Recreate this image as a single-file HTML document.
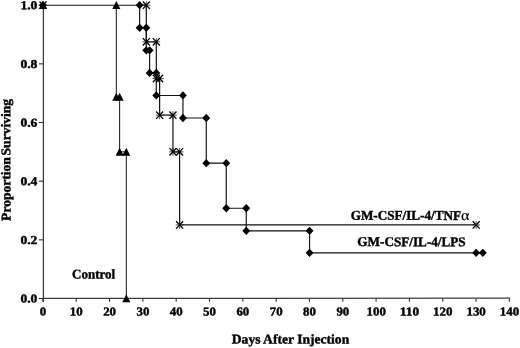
<!DOCTYPE html>
<html><head><meta charset="utf-8"><title>Survival</title>
<style>
html,body{margin:0;padding:0;background:#fff;}
svg{display:block;}
text{font-family:"Liberation Serif","DejaVu Serif",serif;font-weight:bold;fill:#000;stroke:#000;stroke-width:0.4px;}
</style></head><body>
<svg width="520" height="348" viewBox="0 0 520 348">
<rect width="520" height="348" fill="#fff"/>

<g stroke="#3c3c3c" stroke-width="1.25" fill="none">
<path d="M43.4,4.7V301.8"/>
<path d="M42.8,298.45L510.1,298.1"/>
</g>
<g stroke="#333" stroke-width="1.1" fill="none">
<path d="M42.90,298.5V301.8"/>
<path d="M76.22,298.5V301.8"/>
<path d="M109.54,298.5V301.8"/>
<path d="M142.86,298.5V301.8"/>
<path d="M176.18,298.5V301.8"/>
<path d="M209.50,298.5V301.8"/>
<path d="M242.82,298.5V301.8"/>
<path d="M276.14,298.5V301.8"/>
<path d="M309.46,298.5V301.8"/>
<path d="M342.78,298.5V301.8"/>
<path d="M376.10,298.5V301.8"/>
<path d="M409.42,298.5V301.8"/>
<path d="M442.74,298.5V301.8"/>
<path d="M476.06,298.5V301.8"/>
<path d="M509.38,298.5V301.8"/>
<path d="M38.8,298.50H43.4"/>
<path d="M38.8,239.84H43.4"/>
<path d="M38.8,181.18H43.4"/>
<path d="M38.8,122.52H43.4"/>
<path d="M38.8,63.86H43.4"/>
<path d="M38.8,5.20H43.4"/>
</g>
<text transform="translate(39.75,315.40) rotate(0.05)" font-size="12.1" textLength="6.5" lengthAdjust="spacingAndGlyphs">0</text>
<text transform="translate(69.82,315.40) rotate(0.05)" font-size="12.1" textLength="12.9" lengthAdjust="spacingAndGlyphs">10</text>
<text transform="translate(103.14,315.40) rotate(0.05)" font-size="12.1" textLength="12.9" lengthAdjust="spacingAndGlyphs">20</text>
<text transform="translate(136.46,315.40) rotate(0.05)" font-size="12.1" textLength="12.9" lengthAdjust="spacingAndGlyphs">30</text>
<text transform="translate(169.78,315.40) rotate(0.05)" font-size="12.1" textLength="12.9" lengthAdjust="spacingAndGlyphs">40</text>
<text transform="translate(203.10,315.40) rotate(0.05)" font-size="12.1" textLength="12.9" lengthAdjust="spacingAndGlyphs">50</text>
<text transform="translate(236.42,315.40) rotate(0.05)" font-size="12.1" textLength="12.9" lengthAdjust="spacingAndGlyphs">60</text>
<text transform="translate(269.74,315.40) rotate(0.05)" font-size="12.1" textLength="12.9" lengthAdjust="spacingAndGlyphs">70</text>
<text transform="translate(303.06,315.40) rotate(0.05)" font-size="12.1" textLength="12.9" lengthAdjust="spacingAndGlyphs">80</text>
<text transform="translate(336.38,315.40) rotate(0.05)" font-size="12.1" textLength="12.9" lengthAdjust="spacingAndGlyphs">90</text>
<text transform="translate(366.45,315.40) rotate(0.05)" font-size="12.1" textLength="19.4" lengthAdjust="spacingAndGlyphs">100</text>
<text transform="translate(399.77,315.40) rotate(0.05)" font-size="12.1" textLength="19.4" lengthAdjust="spacingAndGlyphs">110</text>
<text transform="translate(433.09,315.40) rotate(0.05)" font-size="12.1" textLength="19.4" lengthAdjust="spacingAndGlyphs">120</text>
<text transform="translate(466.41,315.40) rotate(0.05)" font-size="12.1" textLength="19.4" lengthAdjust="spacingAndGlyphs">130</text>
<text transform="translate(499.73,315.40) rotate(0.05)" font-size="12.1" textLength="19.4" lengthAdjust="spacingAndGlyphs">140</text>
<text transform="translate(20.40,302.60) rotate(0.05)" font-size="12.1" textLength="17.0" lengthAdjust="spacingAndGlyphs">0.0</text>
<text transform="translate(20.40,243.94) rotate(0.05)" font-size="12.1" textLength="17.0" lengthAdjust="spacingAndGlyphs">0.2</text>
<text transform="translate(20.40,185.28) rotate(0.05)" font-size="12.1" textLength="17.0" lengthAdjust="spacingAndGlyphs">0.4</text>
<text transform="translate(20.40,126.62) rotate(0.05)" font-size="12.1" textLength="17.0" lengthAdjust="spacingAndGlyphs">0.6</text>
<text transform="translate(20.40,67.96) rotate(0.05)" font-size="12.1" textLength="17.0" lengthAdjust="spacingAndGlyphs">0.8</text>
<text transform="translate(20.40,9.30) rotate(0.05)" font-size="12.1" textLength="17.0" lengthAdjust="spacingAndGlyphs">1.0</text>
<text transform="translate(231.80,343.50) rotate(0.05)" font-size="13.3" textLength="117.4" lengthAdjust="spacingAndGlyphs">Days After Injection</text>
<text transform="translate(10.40,220.90) rotate(-90.05)" font-size="13.3" textLength="122" lengthAdjust="spacingAndGlyphs" word-spacing="-1.7">Proportion Surviving</text>
<text transform="translate(72.00,278.40) rotate(0.05)" font-size="13.4" textLength="43.2" lengthAdjust="spacingAndGlyphs">Control</text>
<text transform="translate(350.70,219.80) rotate(0.05)" font-size="13.4" textLength="110.3" lengthAdjust="spacingAndGlyphs">GM-CSF/IL-4/TNF</text>
<text transform="translate(461.10,219.90) rotate(0.05)" font-size="14.5" textLength="8.4" lengthAdjust="spacingAndGlyphs" style="font-weight:normal;stroke-width:0.15px">α</text>
<text transform="translate(357.30,246.10) rotate(0.05)" font-size="13.4" textLength="108.4" lengthAdjust="spacingAndGlyphs">GM-CSF/IL-4/LPS</text>
<g stroke="#111" stroke-width="1.0" fill="none" stroke-linejoin="miter">
<path d="M116.30,5.20 L116.30,96.86 L119.64,96.86 L119.64,151.85 L126.30,151.85 L126.30,298.50"/>
<path d="M139.63,5.20 L146.29,5.20 L146.29,41.86 L156.29,41.86 L156.29,78.52 L159.62,78.52 L159.62,115.19 L172.95,115.19 L172.95,151.85 L179.61,151.85 L179.61,224.94 L476.16,224.94" stroke-width="1.2"/>
<path d="M43.00,5.20 L139.63,5.20 L139.63,27.76 L146.29,27.76 L146.29,50.32 L149.62,50.32 L149.62,72.88 L156.29,72.88 L156.29,95.45 L182.94,95.45 L182.94,118.01 L206.27,118.01 L206.27,163.13 L226.26,163.13 L226.26,208.25 L246.25,208.25 L246.25,230.82 L309.56,230.82 L309.56,252.83 L482.82,252.83" stroke-width="1.15"/>
</g>
<path transform="translate(43.00,5.20)" d="M0,-4.1 L4.05,3.85 L-4.05,3.85 Z" fill="#000"/>
<path transform="translate(116.30,5.20)" d="M0,-4.1 L4.05,3.85 L-4.05,3.85 Z" fill="#000"/>
<path transform="translate(116.30,96.86)" d="M0,-4.1 L4.05,3.85 L-4.05,3.85 Z" fill="#000"/>
<path transform="translate(119.64,96.86)" d="M0,-4.1 L4.05,3.85 L-4.05,3.85 Z" fill="#000"/>
<path transform="translate(119.64,151.85)" d="M0,-4.1 L4.05,3.85 L-4.05,3.85 Z" fill="#000"/>
<path transform="translate(126.30,151.85)" d="M0,-4.1 L4.05,3.85 L-4.05,3.85 Z" fill="#000"/>
<path transform="translate(126.30,298.50)" d="M0,-4.1 L4.05,3.85 L-4.05,3.85 Z" fill="#000"/>
<g transform="translate(43.00,5.20)" stroke="#000" fill="none"><path stroke-width="0.8" stroke="#222" d="M-3.9,0H3.9M0,-4V4"/><path stroke-width="1.3" d="M-3.5,-3.7L3.5,3.7M3.5,-3.7L-3.5,3.7"/></g>
<g transform="translate(146.29,5.20)" stroke="#000" fill="none"><path stroke-width="0.8" stroke="#222" d="M-3.9,0H3.9M0,-4V4"/><path stroke-width="1.3" d="M-3.5,-3.7L3.5,3.7M3.5,-3.7L-3.5,3.7"/></g>
<g transform="translate(146.29,41.86)" stroke="#000" fill="none"><path stroke-width="0.8" stroke="#222" d="M-3.9,0H3.9M0,-4V4"/><path stroke-width="1.3" d="M-3.5,-3.7L3.5,3.7M3.5,-3.7L-3.5,3.7"/></g>
<g transform="translate(156.29,41.86)" stroke="#000" fill="none"><path stroke-width="0.8" stroke="#222" d="M-3.9,0H3.9M0,-4V4"/><path stroke-width="1.3" d="M-3.5,-3.7L3.5,3.7M3.5,-3.7L-3.5,3.7"/></g>
<g transform="translate(156.29,78.52)" stroke="#000" fill="none"><path stroke-width="0.8" stroke="#222" d="M-3.9,0H3.9M0,-4V4"/><path stroke-width="1.3" d="M-3.5,-3.7L3.5,3.7M3.5,-3.7L-3.5,3.7"/></g>
<g transform="translate(159.62,78.52)" stroke="#000" fill="none"><path stroke-width="0.8" stroke="#222" d="M-3.9,0H3.9M0,-4V4"/><path stroke-width="1.3" d="M-3.5,-3.7L3.5,3.7M3.5,-3.7L-3.5,3.7"/></g>
<g transform="translate(159.62,115.19)" stroke="#000" fill="none"><path stroke-width="0.8" stroke="#222" d="M-3.9,0H3.9M0,-4V4"/><path stroke-width="1.3" d="M-3.5,-3.7L3.5,3.7M3.5,-3.7L-3.5,3.7"/></g>
<g transform="translate(172.95,115.19)" stroke="#000" fill="none"><path stroke-width="0.8" stroke="#222" d="M-3.9,0H3.9M0,-4V4"/><path stroke-width="1.3" d="M-3.5,-3.7L3.5,3.7M3.5,-3.7L-3.5,3.7"/></g>
<g transform="translate(172.95,151.85)" stroke="#000" fill="none"><path stroke-width="0.8" stroke="#222" d="M-3.9,0H3.9M0,-4V4"/><path stroke-width="1.3" d="M-3.5,-3.7L3.5,3.7M3.5,-3.7L-3.5,3.7"/></g>
<g transform="translate(179.61,151.85)" stroke="#000" fill="none"><path stroke-width="0.8" stroke="#222" d="M-3.9,0H3.9M0,-4V4"/><path stroke-width="1.3" d="M-3.5,-3.7L3.5,3.7M3.5,-3.7L-3.5,3.7"/></g>
<g transform="translate(179.61,224.94)" stroke="#000" fill="none"><path stroke-width="0.8" stroke="#222" d="M-3.9,0H3.9M0,-4V4"/><path stroke-width="1.3" d="M-3.5,-3.7L3.5,3.7M3.5,-3.7L-3.5,3.7"/></g>
<g transform="translate(476.16,224.94)" stroke="#000" fill="none"><path stroke-width="0.8" stroke="#222" d="M-3.9,0H3.9M0,-4V4"/><path stroke-width="1.3" d="M-3.5,-3.7L3.5,3.7M3.5,-3.7L-3.5,3.7"/></g>
<path transform="translate(43.00,5.20)" d="M0,-4.15 L3.95,0 L0,4.15 L-3.95,0 Z" fill="#000"/>
<path transform="translate(139.63,5.20)" d="M0,-4.15 L3.95,0 L0,4.15 L-3.95,0 Z" fill="#000"/>
<path transform="translate(139.63,27.76)" d="M0,-4.15 L3.95,0 L0,4.15 L-3.95,0 Z" fill="#000"/>
<path transform="translate(146.29,27.76)" d="M0,-4.15 L3.95,0 L0,4.15 L-3.95,0 Z" fill="#000"/>
<path transform="translate(146.29,50.32)" d="M0,-4.15 L3.95,0 L0,4.15 L-3.95,0 Z" fill="#000"/>
<path transform="translate(149.62,50.32)" d="M0,-4.15 L3.95,0 L0,4.15 L-3.95,0 Z" fill="#000"/>
<path transform="translate(149.62,72.88)" d="M0,-4.15 L3.95,0 L0,4.15 L-3.95,0 Z" fill="#000"/>
<path transform="translate(156.29,72.88)" d="M0,-4.15 L3.95,0 L0,4.15 L-3.95,0 Z" fill="#000"/>
<path transform="translate(156.29,95.45)" d="M0,-4.15 L3.95,0 L0,4.15 L-3.95,0 Z" fill="#000"/>
<path transform="translate(182.94,95.45)" d="M0,-4.15 L3.95,0 L0,4.15 L-3.95,0 Z" fill="#000"/>
<path transform="translate(182.94,118.01)" d="M0,-4.15 L3.95,0 L0,4.15 L-3.95,0 Z" fill="#000"/>
<path transform="translate(206.27,118.01)" d="M0,-4.15 L3.95,0 L0,4.15 L-3.95,0 Z" fill="#000"/>
<path transform="translate(206.27,163.13)" d="M0,-4.15 L3.95,0 L0,4.15 L-3.95,0 Z" fill="#000"/>
<path transform="translate(226.26,163.13)" d="M0,-4.15 L3.95,0 L0,4.15 L-3.95,0 Z" fill="#000"/>
<path transform="translate(226.26,208.25)" d="M0,-4.15 L3.95,0 L0,4.15 L-3.95,0 Z" fill="#000"/>
<path transform="translate(246.25,208.25)" d="M0,-4.15 L3.95,0 L0,4.15 L-3.95,0 Z" fill="#000"/>
<path transform="translate(246.25,230.82)" d="M0,-4.15 L3.95,0 L0,4.15 L-3.95,0 Z" fill="#000"/>
<path transform="translate(309.56,230.82)" d="M0,-4.15 L3.95,0 L0,4.15 L-3.95,0 Z" fill="#000"/>
<path transform="translate(309.56,252.83)" d="M0,-4.15 L3.95,0 L0,4.15 L-3.95,0 Z" fill="#000"/>
<path transform="translate(476.16,252.83)" d="M0,-4.15 L3.95,0 L0,4.15 L-3.95,0 Z" fill="#000"/>
<path transform="translate(482.82,252.83)" d="M0,-4.15 L3.95,0 L0,4.15 L-3.95,0 Z" fill="#000"/>
</svg></body></html>
